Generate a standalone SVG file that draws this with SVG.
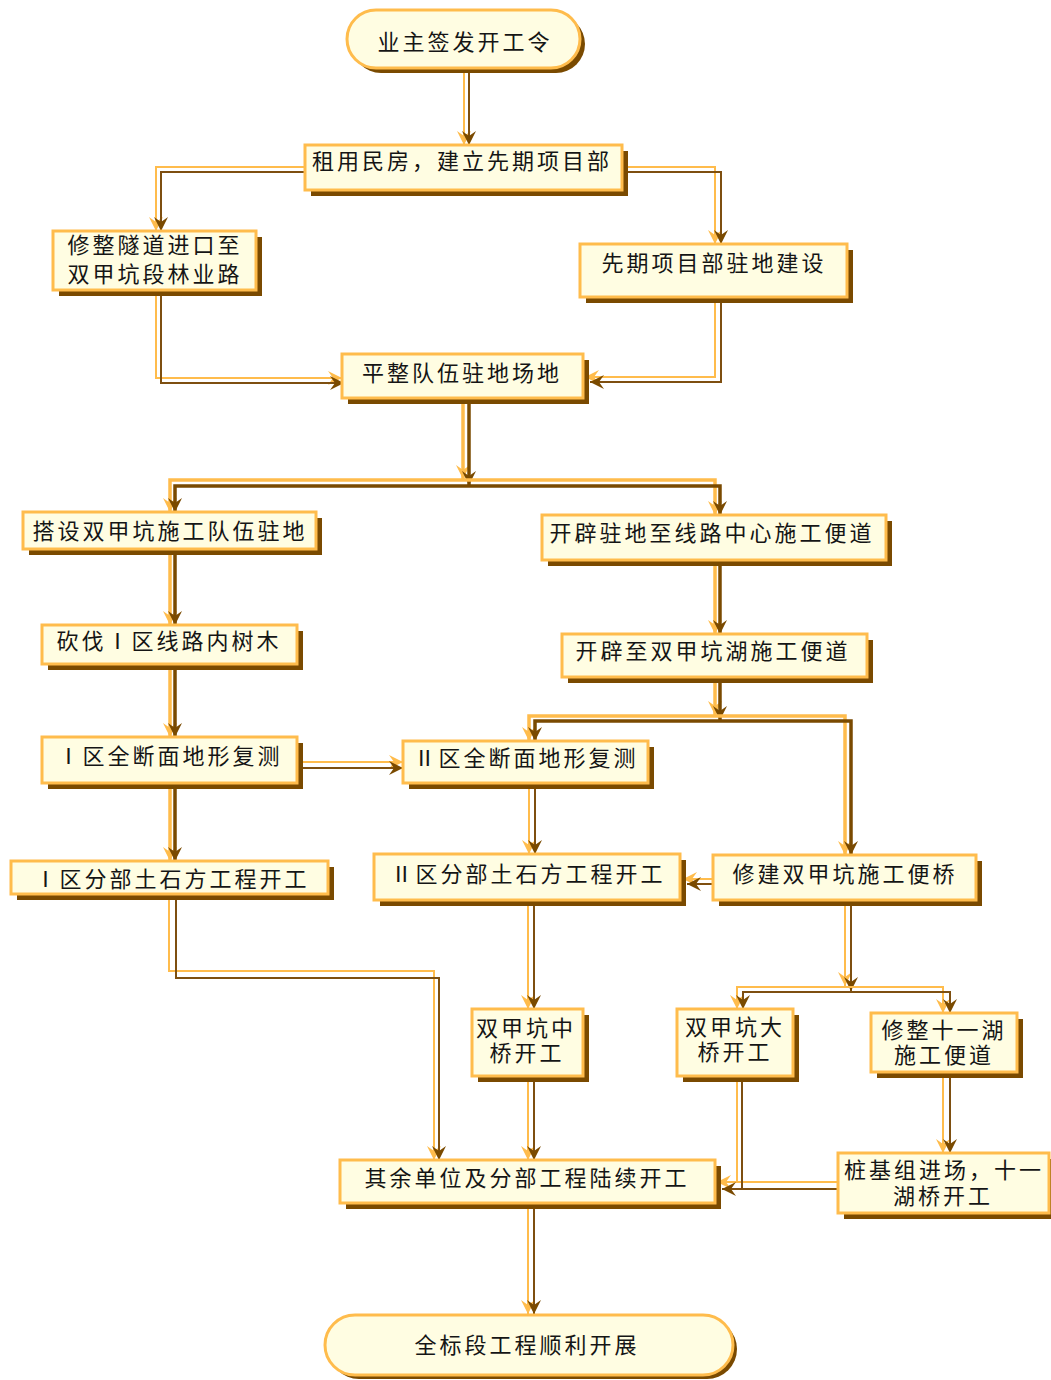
<svg xmlns="http://www.w3.org/2000/svg" width="1051" height="1380" viewBox="0 0 1051 1380">
<style>
.b{fill:#fffde2;stroke:#ffbc4c;stroke-width:3}
.sh{fill:#7a4a00}
.o{fill:none;stroke:#ffbc4c;stroke-width:2}
.r{fill:none;stroke:#7e4f10;stroke-width:2}
.ot{fill:none;stroke:#ffbc4c;stroke-width:3.5}
.rt{fill:none;stroke:#7a4a00;stroke-width:3.5}
.o,.ot{marker-end:url(#ao)}
.r,.rt{marker-end:url(#ab)}
.nm{marker-end:none}
text{font-family:"Noto Sans CJK SC","Noto Sans CJK JP",sans-serif;font-size:22px;letter-spacing:3px;fill:#151515;text-anchor:middle;dominant-baseline:central}
</style>
<defs>
<marker id="ao" markerWidth="16" markerHeight="16" refX="14" refY="8" orient="auto" markerUnits="userSpaceOnUse"><path d="M0,1 L14,8 L0,15 L5,8 z" fill="#ffbc4c"/></marker>
<marker id="ab" markerWidth="16" markerHeight="16" refX="14" refY="8" orient="auto" markerUnits="userSpaceOnUse"><path d="M0,1 L14,8 L0,15 L5,8 z" fill="#7a4a00"/></marker>
</defs>
<g id="connectors">
<path class="o" d="M464,68 V145"/><path class="r" d="M469,73 V145"/>
<path class="o" d="M305,167 H156 V231"/><path class="r" d="M305,172 H161 V231"/>
<path class="o" d="M622,167 H715 V244"/><path class="r" d="M627,172 H721 V244"/>
<path class="o" d="M156,290 V378 H342"/><path class="r" d="M161,296 V383 H344"/>
<path class="o" d="M715,297 V377 H585"/><path class="r" d="M721,303 V382 H590"/>
<path class="ot" d="M463,398 V479"/><path class="rt" d="M469,404 V485"/>
<path class="ot" d="M463,480 H170 V512"/><path class="rt" d="M469,486 H175 V512"/>
<path class="ot" d="M463,480 H715 V515"/><path class="rt" d="M469,486 H720 V515"/>
<path class="ot" d="M170,549 V625"/><path class="rt" d="M175,555 V625"/>
<path class="ot" d="M170,664 V737"/><path class="rt" d="M175,670 V737"/>
<path class="ot" d="M170,783 V861"/><path class="rt" d="M175,789 V861"/>
<path class="o" d="M297,762 H403"/><path class="r" d="M303,768 H403"/>
<path class="ot" d="M715,560 V634"/><path class="rt" d="M720,566 V634"/>
<path class="ot" d="M715,677 V715"/><path class="rt" d="M720,683 V720"/>
<path class="ot" d="M715,716 H529 V741"/><path class="rt" d="M720,721 H535 V741"/>
<path class="ot" d="M715,716 H845 V855"/><path class="rt" d="M720,721 H851 V855"/>
<path class="o" d="M529,783 V854"/><path class="r" d="M535,789 V854"/>
<path class="o" d="M713,879 H683"/><path class="r" d="M713,884 H687"/>
<path class="o" d="M845,900 V986"/><path class="r" d="M851,906 V991"/>
<path class="o" d="M845,987 H737 V1009"/><path class="r" d="M851,992 H743 V1009"/>
<path class="o" d="M845,987 H943 V1013"/><path class="r" d="M851,992 H950 V1013"/>
<path class="o" d="M528,900 V1009"/><path class="r" d="M534,906 V1009"/>
<path class="o" d="M528,1076 V1160"/><path class="r" d="M534,1082 V1160"/>
<path class="o" d="M169,894 V971 H434 V1160"/><path class="r" d="M176,900 V978 H439 V1160"/>
<path class="o" d="M943,1072 V1153"/><path class="r" d="M950,1078 V1153"/>
<path class="o" d="M838,1182 H717"/><path class="r" d="M838,1189 H722"/>
<path class="o nm" d="M737,1076 V1182"/><path class="r nm" d="M742,1082 V1189"/>
<path class="o" d="M528,1203 V1314"/><path class="r" d="M534,1209 V1314"/>
</g>
<g id="n1"><rect class="sh" x="352" y="15" width="233" height="58" rx="29"/><rect class="b" x="347" y="10" width="233" height="58" rx="29"/><text x="465" y="40">业主签发开工令</text></g>
<g id="n2"><rect class="sh" x="311" y="151" width="317" height="45"/><rect class="b" x="305" y="145" width="317" height="45"/><text x="462" y="159">租用民房，建立先期项目部</text></g>
<g id="n3"><rect class="sh" x="59" y="237" width="203" height="59"/><rect class="b" x="53" y="231" width="203" height="59"/><text x="155" y="243">修整隧道进口至<tspan x="155" dy="29">双甲坑段林业路</tspan></text></g>
<g id="n4"><rect class="sh" x="586" y="250" width="267" height="53"/><rect class="b" x="580" y="244" width="267" height="53"/><text x="714" y="261">先期项目部驻地建设</text></g>
<g id="n5"><rect class="sh" x="348" y="360" width="241" height="44"/><rect class="b" x="342" y="354" width="241" height="44"/><text x="462" y="371">平整队伍驻地场地</text></g>
<g id="n6"><rect class="sh" x="29" y="518" width="293" height="37"/><rect class="b" x="23" y="512" width="293" height="37"/><text x="170" y="529">搭设双甲坑施工队伍驻地</text></g>
<g id="n7"><rect class="sh" x="548" y="521" width="344" height="45"/><rect class="b" x="542" y="515" width="344" height="45"/><text x="712" y="531">开辟驻地至线路中心施工便道</text></g>
<g id="n8"><rect class="sh" x="48" y="631" width="255" height="39"/><rect class="b" x="42" y="625" width="255" height="39"/><text x="169" y="639">砍伐Ⅰ区线路内树木</text></g>
<g id="n9"><rect class="sh" x="568" y="640" width="305" height="43"/><rect class="b" x="562" y="634" width="305" height="43"/><text x="713" y="649">开辟至双甲坑湖施工便道</text></g>
<g id="n10"><rect class="sh" x="48" y="743" width="255" height="46"/><rect class="b" x="42" y="737" width="255" height="46"/><text x="170" y="754">Ⅰ区全断面地形复测</text></g>
<g id="n11"><rect class="sh" x="409" y="747" width="245" height="42"/><rect class="b" x="403" y="741" width="245" height="42"/><text x="526" y="756">Ⅱ区全断面地形复测</text></g>
<g id="n12"><rect class="sh" x="17" y="867" width="317" height="33"/><rect class="b" x="11" y="861" width="317" height="33"/><text x="172" y="877">Ⅰ区分部土石方工程开工</text></g>
<g id="n13"><rect class="sh" x="380" y="860" width="306" height="46"/><rect class="b" x="374" y="854" width="306" height="46"/><text x="528" y="872">Ⅱ区分部土石方工程开工</text></g>
<g id="n14"><rect class="sh" x="719" y="861" width="263" height="45"/><rect class="b" x="713" y="855" width="263" height="45"/><text x="845" y="872">修建双甲坑施工便桥</text></g>
<g id="n15"><rect class="sh" x="478" y="1015" width="111" height="67"/><rect class="b" x="472" y="1009" width="111" height="67"/><text x="526" y="1026">双甲坑中<tspan x="527" dy="25">桥开工</tspan></text></g>
<g id="n16"><rect class="sh" x="683" y="1015" width="116" height="67"/><rect class="b" x="677" y="1009" width="116" height="67"/><text x="735" y="1025">双甲坑大<tspan x="735" dy="25">桥开工</tspan></text></g>
<g id="n17"><rect class="sh" x="877" y="1019" width="146" height="59"/><rect class="b" x="871" y="1013" width="146" height="59"/><text x="944" y="1028">修整十一湖<tspan x="944" dy="25">施工便道</tspan></text></g>
<g id="n18"><rect class="sh" x="844" y="1159" width="211" height="60"/><rect class="b" x="838" y="1153" width="211" height="60"/><text x="944" y="1168">桩基组进场，十一<tspan x="943" dy="26">湖桥开工</tspan></text></g>
<g id="n19"><rect class="sh" x="346" y="1166" width="375" height="43"/><rect class="b" x="340" y="1160" width="375" height="43"/><text x="527" y="1176">其余单位及分部工程陆续开工</text></g>
<g id="n20"><rect class="sh" x="329" y="1319" width="408" height="60" rx="30"/><rect class="b" x="325" y="1315" width="408" height="60" rx="30"/><text x="527" y="1343">全标段工程顺利开展</text></g>
</svg>
